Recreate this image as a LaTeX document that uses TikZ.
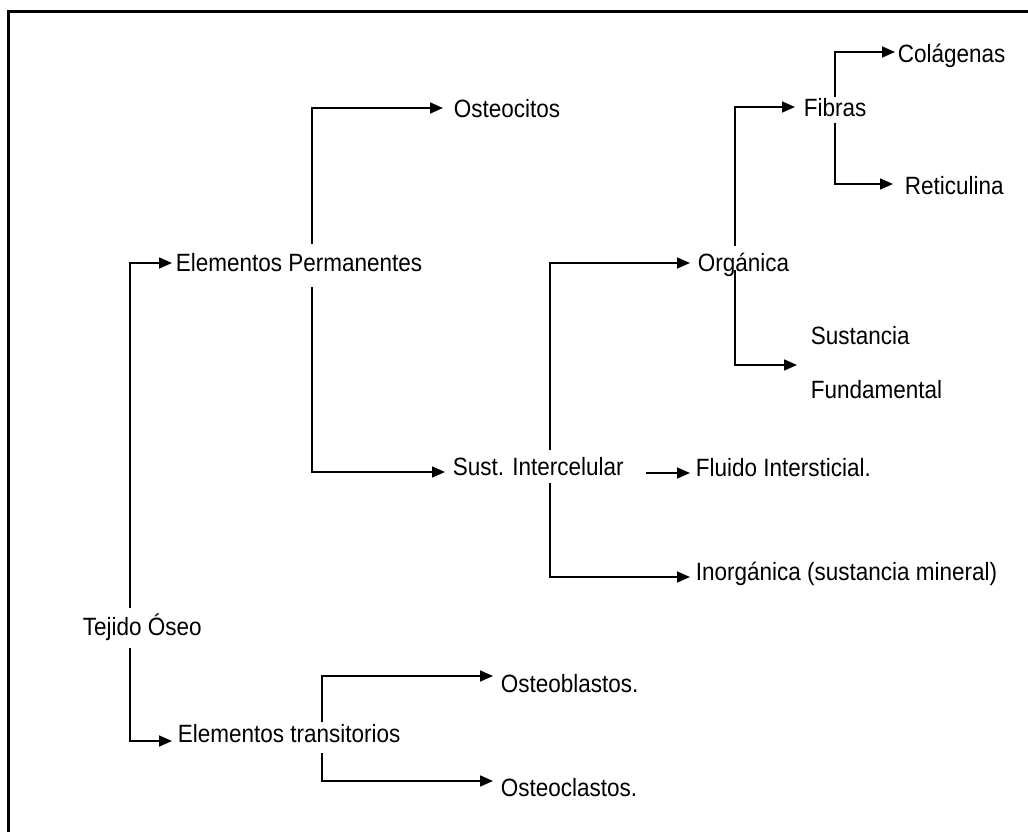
\documentclass[tikz,border=0pt]{standalone}
\usepackage{fontspec}
\setmainfont{Liberation Sans}[FakeStretch=0.9]
\usetikzlibrary{arrows.meta,calc,positioning}

\begin{document}
\begin{tikzpicture}[x=1pt,y=-1pt,>={Triangle[length=13pt,width=11pt]},line width=1.7pt,
		lbl/.style={anchor=base west,inner sep=0pt,font=\fontsize{25}{29}\selectfont}]
		\useasboundingbox (0,0) rectangle (1028,832);
		\draw[line width=2.6pt] (8.7,832) -- (8.7,11.3) -- (1028,11.3);
		% nodes
		\node[lbl] (to) at (82,635) {Tejido Óseo};
		\node[lbl] (ep) at (175,271) {Elementos Permanentes};
		\node[lbl] (et) at (177,742) {Elementos transitorios};
		\node[lbl] (oc) at (453,118) {Osteocitos};
		\node[lbl] (si) at (452,475) {Sust. Intercelular};
		\node[lbl] (og) at (697,271) {Orgánica};
		\node[lbl] (fi) at (695,476) {Fluido Intersticial.};
		\node[lbl] (in) at (695,580) {Inorgánica (sustancia mineral)};
		\node[lbl] (fb) at (803,117) {Fibras};
		\node[lbl] (co) at (897,63) {Colágenas};
		\node[lbl] (re) at (904,194) {Reticulina};
		\node[lbl,anchor=west,align=left] (sf) at (810,363) {Sustancia\\[25pt]Fundamental};
		\node[lbl] (ob) at (500,692) {Osteoblastos.};
		\node[lbl] (ocl) at (500,796) {Osteoclastos.};
		% spine ends
		\coordinate (to-up) at (130,608);
		\coordinate (to-down) at (130,648);
		\coordinate (ep-up) at (312,244);
		\coordinate (ep-down) at (312,287);
		\coordinate (si-up) at (550,450);
		\coordinate (si-down) at (550,483);
		\coordinate (si-right) at (646,473);
		\coordinate (og-up) at (735,246);
		\coordinate (og-down) at (735,270);
		\coordinate (fb-up) at (835,97);
		\coordinate (fb-down) at (835,123);
		\coordinate (et-up) at (322,722);
		\coordinate (et-down) at (322,753);
		% connectors
		\draw[->] (to-up) |- ([xshift=-3pt,yshift=8pt]ep.base west);
		\draw[->] (to-down) |- ([xshift=-5pt,yshift=1pt]et.base west);
		\draw[->] (ep-up) |- ([xshift=-10pt,yshift=10pt]oc.base west);
		\draw[->] (ep-down) |- ([xshift=-7pt,yshift=3pt]si.base west);
		\draw[->] (si-up) |- ([xshift=-7pt,yshift=8pt]og.base west);
		\draw[->] (si-right) -- ([xshift=-5pt,yshift=3pt]fi.base west);
		\draw[->] (si-down) |- ([xshift=-5pt,yshift=3pt]in.base west);
		\draw[->] (og-up) |- ([xshift=-8pt,yshift=10pt]fb.base west);
		\draw[->] (og-down) |- ([xshift=-13pt,yshift=-2pt]sf.west);
		\draw[->] (fb-up) |- ([xshift=-2pt,yshift=11pt]co.base west);
		\draw[->] (fb-down) |- ([xshift=-11pt,yshift=10pt]re.base west);
		\draw[->] (et-up) |- ([xshift=-7pt,yshift=16pt]ob.base west);
		\draw[->] (et-down) |- ([xshift=-7pt,yshift=15pt]ocl.base west);
	\end{tikzpicture}
\end{document}
